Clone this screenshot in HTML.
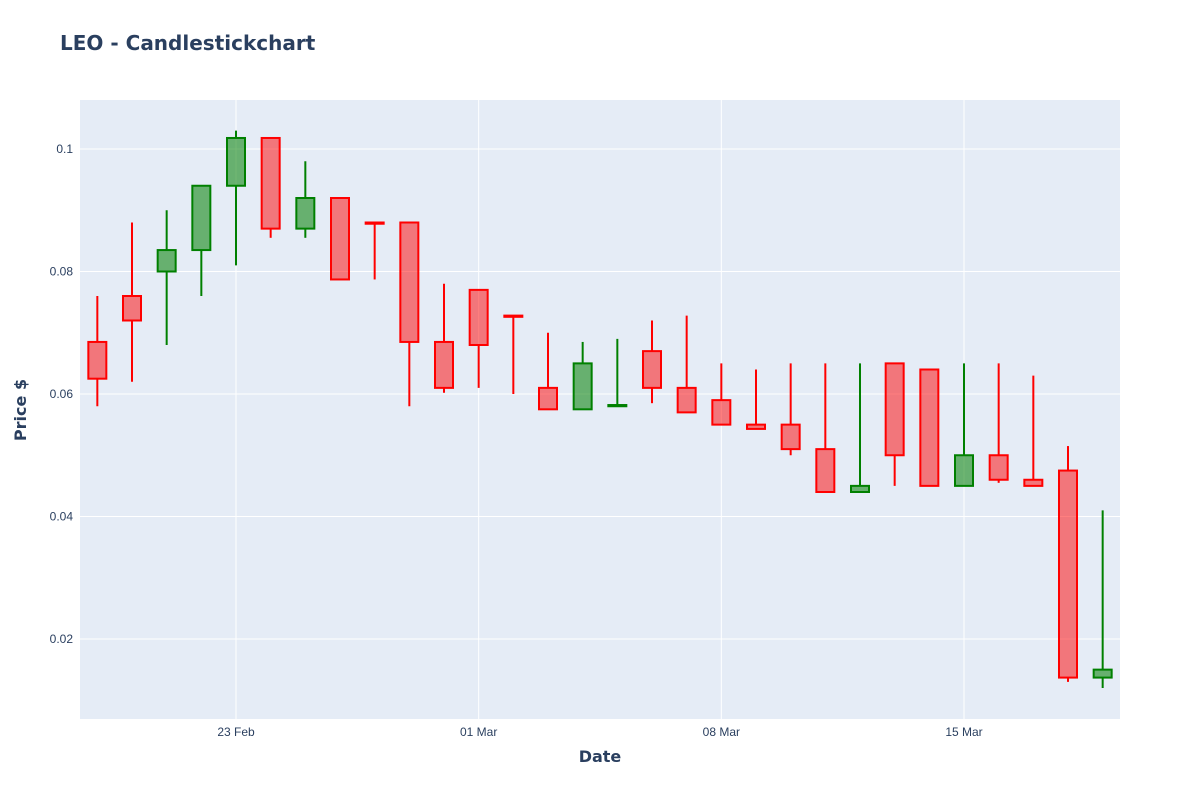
<!DOCTYPE html>
<html><head><meta charset="utf-8"><style>
body{margin:0;background:#fff;}
svg{display:block;font-family:"Liberation Sans",sans-serif;}
</style></head><body>
<svg id="chart" width="1200" height="800" viewBox="0 0 1200 800">
<rect x="0" y="0" width="1200" height="800" fill="#fff"/>
<rect x="80" y="100" width="1040" height="619" fill="#e5ecf6"/>
<g id="grid"></g>
<g id="candles"></g>
<g id="axes"></g>
<text x="60" y="50" font-size="20" font-weight="bold" fill="#2a3f5f" style="font-family:'DejaVu Sans',sans-serif">LEO - Candlestickchart</text>
<text x="600" y="762" font-size="16" font-weight="bold" fill="#2a3f5f" text-anchor="middle" style="font-family:'DejaVu Sans',sans-serif">Date</text>
<text x="26" y="410" font-size="16" font-weight="bold" fill="#2a3f5f" text-anchor="middle" transform="rotate(-90 26 410)" style="font-family:'DejaVu Sans',sans-serif">Price $</text>
</svg>
<script>
const dates = ["2020-02-19","2020-02-20","2020-02-21","2020-02-22","2020-02-23","2020-02-24","2020-02-25","2020-02-26","2020-02-27","2020-02-28","2020-02-29","2020-03-01","2020-03-02","2020-03-03","2020-03-04","2020-03-05","2020-03-06","2020-03-07","2020-03-08","2020-03-09","2020-03-10","2020-03-11","2020-03-12","2020-03-13","2020-03-14","2020-03-15","2020-03-16","2020-03-17","2020-03-18","2020-03-19"];
const opens  = [0.0685,0.076,0.080,0.0835,0.094,0.1018,0.087,0.092,0.088,0.088,0.0685,0.077,0.0728,0.061,0.0575,0.058,0.067,0.061,0.059,0.055,0.055,0.051,0.044,0.065,0.064,0.045,0.050,0.046,0.0475,0.0137];
const highs  = [0.076,0.088,0.090,0.094,0.103,0.1018,0.098,0.092,0.088,0.088,0.078,0.077,0.0728,0.070,0.0685,0.069,0.072,0.0728,0.065,0.064,0.065,0.065,0.065,0.065,0.064,0.065,0.065,0.063,0.0515,0.041];
const lows   = [0.058,0.062,0.068,0.076,0.081,0.0855,0.0855,0.0787,0.0787,0.058,0.0602,0.061,0.060,0.0575,0.0575,0.058,0.0585,0.057,0.055,0.0543,0.050,0.044,0.044,0.045,0.045,0.045,0.0455,0.045,0.013,0.012];
const closes = [0.0625,0.072,0.0835,0.094,0.1018,0.087,0.092,0.0787,0.0878,0.0685,0.061,0.068,0.0726,0.0575,0.065,0.0582,0.061,0.057,0.055,0.0543,0.051,0.044,0.045,0.050,0.045,0.050,0.046,0.045,0.0137,0.015];
const yTicks = [0.02,0.04,0.06,0.08,0.1];
const yTickLabels = ["0.02","0.04","0.06","0.08","0.1"];
const xTicks = ["2020-02-23","2020-03-01","2020-03-08","2020-03-15"];
const xTickLabels = ["23 Feb","01 Mar","08 Mar","15 Mar"];

const NS="http://www.w3.org/2000/svg";
const x0=Date.parse("2020-02-18T12:00:00Z"), x1=Date.parse("2020-03-19T12:00:00Z");
function xs(d){return 80+(Date.parse(d+"T00:00:00Z")-x0)/(x1-x0)*1040;}
function ys(v){return 149+(0.1-v)*6125;}
function mk(tag,attrs,parent){const e=document.createElementNS(NS,tag);for(const k in attrs)e.setAttribute(k,attrs[k]);parent.appendChild(e);return e;}
const grid=document.getElementById('grid'),axes=document.getElementById('axes'),cg=document.getElementById('candles');
yTicks.forEach((v,i)=>{
  const l=mk('line',{x1:80,x2:1120,y1:ys(v),y2:ys(v),stroke:'#fff','stroke-width':1},grid);
  
  
  const t=mk('text',{x:73,y:ys(v)+4,'text-anchor':'end','font-size':12,fill:'#2a3f5f'},axes);
  t.textContent=yTickLabels[i];
  
  
});
xTicks.forEach((d,i)=>{
  const l=mk('line',{x1:xs(d),x2:xs(d),y1:100,y2:719,stroke:'#fff','stroke-width':1},grid);
  
  
  const t=mk('text',{x:xs(d),y:736,'text-anchor':'middle','font-size':12,fill:'#2a3f5f'},axes);
  t.textContent=xTickLabels[i];
  
  
});
dates.forEach((d,i)=>{
  const up=closes[i]>opens[i];
  const col=up?'#008000':'#ff0000', fill=up?'rgba(0,128,0,0.55)':'rgba(255,0,0,0.5)';
  const cx=xs(d), w=18;
  const g=mk('g',{},cg);
  
  
  const top=Math.max(opens[i],closes[i]), bot=Math.min(opens[i],closes[i]);
  mk('line',{x1:cx,x2:cx,y1:ys(highs[i]),y2:ys(top),stroke:col,'stroke-width':2},g);
  mk('line',{x1:cx,x2:cx,y1:ys(bot),y2:ys(lows[i]),stroke:col,'stroke-width':2},g);
  mk('rect',{x:cx-w/2,y:ys(top),width:w,height:Math.max(ys(bot)-ys(top),0.5),fill:fill,stroke:col,'stroke-width':2},g);
});
</script>
</body></html>
